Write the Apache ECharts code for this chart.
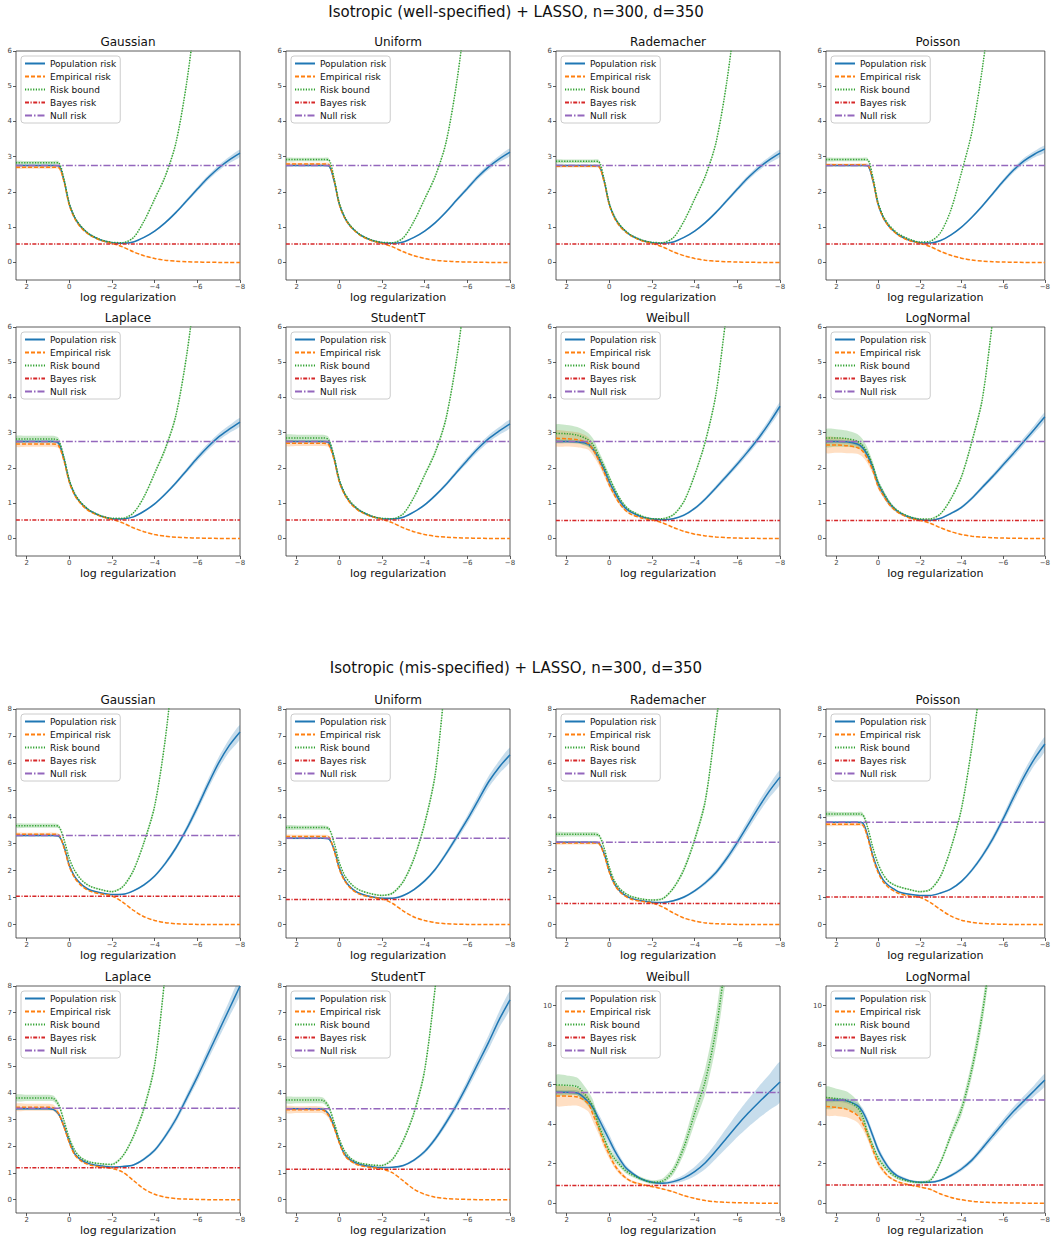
<!DOCTYPE html>
<html><head><meta charset="utf-8">
<script src="https://cdn.jsdelivr.net/npm/echarts@6/dist/echarts.min.js"></script>
<style>html,body{margin:0;padding:0;background:#fff}#c{width:1053px;height:1240px}</style>
</head><body><div id="c"></div>
<script>
// ---------------- DATA ----------------
const logReg = [2.5,2,1.5,1,0.75,0.5,0.25,0,-0.25,-0.5,-0.75,-1,-1.5,-2,-2.5,-3,-3.5,-4,-4.5,-5,-5.5,-6,-6.5,-7,-7.5,-8];
const xTicks = [2,0,-2,-4,-6,-8];
const yTicks6 = [0,1,2,3,4,5,6];
const yTicks8 = [0,1,2,3,4,5,6,7,8];
const yTicks11 = [0,2,4,6,8,10];
const suptitles = ['Isotropic (well-specified) + LASSO, n=300, d=350','Isotropic (mis-specified) + LASSO, n=300, d=350'];
const panelTitles = ['Gaussian','Uniform','Rademacher','Poisson','Laplace','StudentT','Weibull','LogNormal',
                     'Gaussian','Uniform','Rademacher','Poisson','Laplace','StudentT','Weibull','LogNormal'];
const seriesNames = ['Population risk','Empirical risk','Risk bound','Bayes risk','Null risk'];
const bayesRisk = [0.52,0.52,0.52,0.52, 0.52,0.52,0.51,0.51, 1.05,0.93,0.78,1.02, 1.19,1.14,0.89,0.92];
const nullRisk  = [2.75,2.75,2.75,2.75, 2.75,2.75,2.75,2.75, 3.30,3.20,3.05,3.80, 3.42,3.40,5.60,5.22];

// well-specified
const gaussW_pop   = [2.75,2.75,2.75,2.75,2.75,2.74,2.32,1.65,1.27,1.04,0.89,0.77,0.63,0.56,0.54,0.58,0.71,0.89,1.13,1.42,1.75,2.08,2.40,2.68,2.91,3.10];
const gaussW_emp   = [2.70,2.70,2.70,2.70,2.70,2.69,2.29,1.62,1.25,1.02,0.87,0.76,0.62,0.54,0.44,0.30,0.19,0.11,0.06,0.035,0.02,0.01,0.005,0,0,0];
const gaussW_bound = [2.83,2.83,2.83,2.83,2.83,2.82,2.36,1.67,1.29,1.06,0.90,0.78,0.64,0.57,0.56,0.70,1.17,1.80,2.45,3.40,5.10,7.40,9.5,12.5,16,20];
const uniW_pop     = [2.75,2.75,2.75,2.75,2.75,2.74,2.32,1.65,1.27,1.04,0.89,0.77,0.63,0.56,0.54,0.58,0.71,0.89,1.13,1.43,1.77,2.10,2.43,2.71,2.94,3.13];
const uniW_emp     = [2.79,2.79,2.79,2.79,2.79,2.78,2.34,1.64,1.26,1.03,0.88,0.76,0.62,0.54,0.44,0.30,0.19,0.11,0.06,0.035,0.02,0.01,0.005,0,0,0];
const uniW_bound   = [2.92,2.92,2.92,2.92,2.92,2.91,2.40,1.68,1.29,1.06,0.90,0.78,0.64,0.57,0.56,0.70,1.17,1.80,2.45,3.40,5.10,7.40,9.5,12.5,16,20];
const radW_pop     = [2.75,2.75,2.75,2.75,2.75,2.74,2.32,1.65,1.27,1.04,0.89,0.77,0.63,0.56,0.54,0.58,0.71,0.89,1.13,1.42,1.75,2.08,2.40,2.68,2.91,3.10];
const radW_emp     = [2.73,2.73,2.73,2.73,2.73,2.72,2.30,1.63,1.25,1.02,0.87,0.76,0.62,0.54,0.44,0.30,0.19,0.11,0.06,0.035,0.02,0.01,0.005,0,0,0];
const radW_bound   = [2.87,2.87,2.87,2.87,2.87,2.86,2.38,1.67,1.29,1.06,0.90,0.78,0.64,0.57,0.56,0.70,1.17,1.80,2.45,3.40,5.10,7.40,9.5,12.5,16,20];
const poisW_pop    = [2.75,2.75,2.75,2.75,2.75,2.74,2.32,1.65,1.27,1.04,0.89,0.77,0.63,0.56,0.55,0.62,0.78,1.00,1.28,1.60,1.95,2.30,2.62,2.88,3.07,3.22];
const poisW_emp    = [2.77,2.77,2.77,2.77,2.77,2.76,2.33,1.64,1.26,1.03,0.88,0.76,0.62,0.54,0.45,0.31,0.20,0.12,0.065,0.035,0.02,0.01,0.005,0,0,0];
const poisW_bound  = [2.92,2.92,2.92,2.92,2.92,2.91,2.42,1.70,1.31,1.08,0.92,0.80,0.66,0.58,0.60,0.85,1.50,2.55,3.70,5.50,7.80,10.5,13.5,17,21,25];
const lapW_pop     = [2.75,2.75,2.75,2.75,2.75,2.70,2.25,1.62,1.25,1.03,0.88,0.77,0.63,0.56,0.55,0.61,0.77,0.98,1.26,1.58,1.93,2.28,2.60,2.88,3.10,3.30];
const lapW_emp     = [2.68,2.68,2.68,2.68,2.68,2.63,2.20,1.59,1.23,1.01,0.86,0.75,0.62,0.54,0.44,0.30,0.19,0.11,0.06,0.035,0.02,0.01,0.005,0,0,0];
const lapW_bound   = [2.82,2.82,2.82,2.82,2.82,2.77,2.30,1.66,1.28,1.05,0.90,0.78,0.64,0.57,0.57,0.72,1.18,1.85,2.55,3.50,5.20,7.50,9.8,12.8,16,20];
const stuW_pop     = [2.75,2.75,2.75,2.75,2.75,2.72,2.28,1.63,1.26,1.03,0.88,0.77,0.63,0.56,0.55,0.60,0.75,0.95,1.22,1.53,1.88,2.22,2.55,2.83,3.05,3.25];
const stuW_emp     = [2.70,2.70,2.70,2.70,2.70,2.66,2.24,1.60,1.24,1.01,0.86,0.75,0.62,0.54,0.44,0.30,0.19,0.11,0.06,0.035,0.02,0.01,0.005,0,0,0];
const stuW_bound   = [2.85,2.85,2.85,2.85,2.85,2.80,2.33,1.67,1.29,1.06,0.90,0.78,0.64,0.57,0.56,0.70,1.17,1.80,2.45,3.40,5.10,7.40,9.5,12.5,16,20];
const weiW_pop     = [2.75,2.75,2.74,2.68,2.52,2.27,1.96,1.60,1.31,1.05,0.86,0.75,0.61,0.55,0.53,0.56,0.66,0.85,1.12,1.44,1.77,2.11,2.47,2.85,3.28,3.75];
const weiW_emp     = [2.84,2.83,2.80,2.70,2.50,2.22,1.88,1.52,1.22,0.97,0.80,0.69,0.58,0.52,0.44,0.31,0.20,0.12,0.07,0.04,0.02,0.01,0.005,0,0,0];
const weiW_bound   = [2.98,2.97,2.93,2.80,2.65,2.35,2.05,1.72,1.40,1.12,0.92,0.79,0.64,0.56,0.56,0.67,1.05,1.80,2.75,4.10,6.40,8.50,11.5,15,19,23];
const lnW_pop      = [2.75,2.75,2.74,2.68,2.58,2.35,2.00,1.55,1.27,1.03,0.86,0.74,0.60,0.53,0.51,0.57,0.71,0.88,1.14,1.45,1.76,2.09,2.42,2.76,3.10,3.45];
const lnW_emp      = [2.65,2.65,2.63,2.58,2.48,2.25,1.92,1.48,1.22,0.99,0.83,0.72,0.58,0.51,0.43,0.30,0.19,0.11,0.06,0.035,0.02,0.01,0.005,0,0,0];
const lnW_bound    = [2.85,2.85,2.83,2.76,2.65,2.42,2.06,1.60,1.31,1.06,0.88,0.76,0.62,0.55,0.55,0.70,1.13,1.75,2.75,3.95,6.20,8.50,11,14,18,22];
// mis-specified
const gaussM_pop   = [3.30,3.30,3.30,3.30,3.30,3.28,2.90,2.20,1.78,1.54,1.38,1.27,1.17,1.11,1.12,1.25,1.47,1.80,2.27,2.85,3.55,4.35,5.20,6.00,6.65,7.15];
const gaussM_emp   = [3.35,3.35,3.35,3.35,3.35,3.33,2.85,2.15,1.73,1.49,1.33,1.23,1.13,1.06,0.83,0.53,0.29,0.15,0.07,0.03,0.015,0.005,0,0,0,0];
const gaussM_bound = [3.67,3.67,3.67,3.67,3.67,3.64,3.15,2.45,2.00,1.72,1.53,1.41,1.29,1.22,1.40,2.00,3.05,4.40,6.90,10.5,14,18,22,26,30,34];
const uniM_pop     = [3.20,3.20,3.20,3.20,3.20,3.18,2.80,2.10,1.66,1.40,1.24,1.14,1.03,0.98,0.98,1.08,1.30,1.62,2.05,2.62,3.25,3.90,4.60,5.30,5.85,6.30];
const uniM_emp     = [3.27,3.27,3.27,3.27,3.27,3.25,2.75,2.05,1.62,1.37,1.21,1.11,1.01,0.95,0.78,0.50,0.28,0.15,0.07,0.03,0.015,0.005,0,0,0,0];
const uniM_bound   = [3.60,3.60,3.60,3.60,3.60,3.57,3.05,2.30,1.82,1.55,1.37,1.26,1.14,1.08,1.17,1.60,2.45,3.75,5.60,9.30,13,17,21,25,29,33];
const radM_pop     = [3.05,3.05,3.05,3.05,3.05,3.03,2.65,1.98,1.50,1.24,1.08,0.98,0.88,0.83,0.82,0.88,1.02,1.25,1.55,1.93,2.45,3.05,3.70,4.35,4.95,5.47];
const radM_emp     = [3.03,3.03,3.03,3.03,3.03,3.01,2.60,1.94,1.47,1.21,1.05,0.95,0.86,0.80,0.65,0.43,0.24,0.13,0.06,0.03,0.015,0.005,0,0,0,0];
const radM_bound   = [3.35,3.35,3.35,3.35,3.35,3.32,2.85,2.12,1.60,1.33,1.16,1.05,0.95,0.91,0.96,1.35,2.05,3.15,4.60,7.50,10.5,14,17.5,21,25,29];
const poisM_pop    = [3.80,3.80,3.80,3.80,3.78,3.30,2.55,2.00,1.65,1.45,1.32,1.21,1.12,1.08,1.08,1.17,1.32,1.60,2.02,2.55,3.18,3.92,4.72,5.48,6.15,6.70];
const poisM_emp    = [3.72,3.72,3.72,3.72,3.70,3.22,2.48,1.93,1.58,1.38,1.25,1.15,1.06,1.01,0.82,0.55,0.31,0.16,0.08,0.04,0.02,0.01,0,0,0,0];
const poisM_bound  = [4.10,4.10,4.10,4.10,4.08,3.60,2.85,2.25,1.85,1.60,1.48,1.40,1.30,1.22,1.30,1.80,2.85,4.30,6.60,9.50,13,17,21,25,29,33];
const lapM_pop     = [3.40,3.40,3.40,3.40,3.38,3.20,2.75,2.18,1.72,1.52,1.40,1.33,1.26,1.22,1.24,1.30,1.52,1.85,2.38,3.02,3.80,4.60,5.45,6.30,7.15,8.00];
const lapM_emp     = [3.46,3.46,3.46,3.46,3.44,3.22,2.72,2.13,1.68,1.48,1.36,1.29,1.22,1.17,1.03,0.72,0.40,0.20,0.09,0.04,0.02,0.01,0,0,0,0];
const lapM_bound   = [3.81,3.81,3.81,3.81,3.79,3.55,2.95,2.30,1.85,1.60,1.47,1.40,1.34,1.32,1.63,2.36,3.42,5.05,8.50,12.5,17,21,25,29,33,37];
const stuM_pop     = [3.40,3.40,3.40,3.40,3.38,3.20,2.75,2.16,1.70,1.50,1.38,1.31,1.24,1.20,1.21,1.28,1.48,1.80,2.28,2.88,3.55,4.30,5.10,5.90,6.75,7.48];
const stuM_emp     = [3.37,3.37,3.37,3.37,3.35,3.15,2.70,2.12,1.66,1.46,1.34,1.27,1.20,1.15,1.00,0.70,0.39,0.20,0.09,0.04,0.02,0.01,0,0,0,0];
const stuM_bound   = [3.73,3.73,3.73,3.73,3.71,3.48,2.90,2.26,1.82,1.57,1.44,1.36,1.30,1.28,1.52,2.22,3.25,4.85,8.00,12,16,20,24,28,32,36];
const weiM_pop     = [5.62,5.62,5.58,5.15,4.80,4.28,3.74,3.20,2.66,2.20,1.82,1.58,1.22,1.06,1.01,1.09,1.28,1.60,2.05,2.65,3.30,3.95,4.55,5.10,5.62,6.14];
const weiM_emp     = [5.43,5.42,5.38,5.05,4.45,3.80,3.05,2.45,1.92,1.55,1.30,1.12,0.95,0.84,0.72,0.57,0.38,0.24,0.13,0.07,0.04,0.02,0.01,0,0,0];
const weiM_bound   = [5.99,5.97,5.90,5.30,4.85,3.95,3.30,2.65,2.25,1.93,1.65,1.47,1.22,1.06,1.12,1.65,2.85,4.55,6.20,8.80,12.6,16,19.5,23,26.5,30];
const lnM_pop      = [5.22,5.22,5.18,4.95,4.65,4.10,3.40,2.70,2.20,1.80,1.52,1.34,1.14,1.06,1.06,1.16,1.40,1.73,2.18,2.78,3.42,4.05,4.65,5.18,5.71,6.24];
const lnM_emp      = [4.90,4.85,4.75,4.45,4.05,3.45,2.70,2.05,1.65,1.35,1.18,1.06,0.92,0.82,0.70,0.46,0.29,0.17,0.09,0.05,0.03,0.015,0.005,0,0,0];
const lnM_bound    = [5.35,5.30,5.20,4.85,4.40,3.55,2.90,2.30,1.92,1.62,1.40,1.25,1.10,1.05,1.15,2.08,3.45,4.75,6.80,9.60,13.5,17.5,21.5,25.5,29.5,33.5];

// half-widths of the shaded bands
const bandLightW_pop   = [0.02,0.02,0.02,0.02,0.02,0.02,0.03,0.03,0.02,0.02,0.01,0.01,0.01,0.01,0.01,0.01,0.02,0.02,0.03,0.04,0.05,0.06,0.07,0.08,0.09,0.10];
const bandLightW_emp   = [0.04,0.04,0.04,0.04,0.04,0.04,0.03,0.02,0.02,0.01,0.01,0.01,0.01,0.01,0.01,0.01,0.01,0.01,0.005,0.005,0,0,0,0,0,0];
const bandLightW_bound = [0.05,0.05,0.05,0.05,0.05,0.05,0.04,0.03,0.02,0.02,0.01,0.01,0.01,0.01,0.01,0.02,0.03,0.04,0.05,0.07,0.09,0.11,0.13,0.15,0.17,0.20];
const bandHeavyW_pop   = [0.03,0.03,0.03,0.03,0.03,0.04,0.05,0.04,0.03,0.02,0.02,0.01,0.01,0.01,0.01,0.02,0.02,0.03,0.04,0.05,0.06,0.08,0.09,0.10,0.11,0.12];
const bandHeavyW_emp   = [0.08,0.08,0.08,0.08,0.08,0.07,0.05,0.04,0.03,0.02,0.02,0.01,0.01,0.01,0.01,0.01,0.01,0.01,0.005,0.005,0,0,0,0,0,0];
const bandHeavyW_bound = [0.09,0.09,0.09,0.09,0.09,0.08,0.06,0.04,0.03,0.02,0.02,0.01,0.01,0.01,0.01,0.02,0.04,0.05,0.07,0.09,0.11,0.13,0.15,0.17,0.20,0.22];
const bandSkewW_pop    = [0.05,0.05,0.05,0.06,0.08,0.10,0.12,0.12,0.10,0.08,0.06,0.04,0.03,0.02,0.02,0.02,0.03,0.04,0.05,0.06,0.07,0.08,0.09,0.10,0.11,0.12];
const bandSkewW_emp    = [0.22,0.22,0.21,0.18,0.16,0.13,0.10,0.08,0.06,0.04,0.03,0.02,0.01,0.01,0.01,0.01,0.01,0.01,0.005,0.005,0,0,0,0,0,0];
const bandSkewW_bound  = [0.25,0.25,0.23,0.20,0.17,0.14,0.11,0.08,0.06,0.04,0.03,0.02,0.02,0.02,0.02,0.03,0.04,0.06,0.08,0.10,0.13,0.16,0.20,0.24,0.28,0.32];
const bandLightM_pop   = [0.03,0.03,0.03,0.03,0.03,0.03,0.04,0.04,0.03,0.02,0.02,0.02,0.02,0.02,0.02,0.03,0.04,0.05,0.07,0.09,0.12,0.15,0.18,0.21,0.24,0.26];
const bandLightM_emp   = [0.06,0.06,0.06,0.06,0.06,0.05,0.04,0.03,0.02,0.02,0.02,0.01,0.01,0.01,0.01,0.01,0.01,0.01,0.005,0.005,0,0,0,0,0,0];
const bandLightM_bound = [0.08,0.08,0.08,0.08,0.08,0.07,0.06,0.05,0.04,0.03,0.03,0.03,0.03,0.03,0.04,0.06,0.09,0.12,0.16,0.20,0.25,0.30,0.35,0.40,0.45,0.50];
const bandHeavyM_pop   = [0.04,0.04,0.04,0.04,0.04,0.05,0.06,0.05,0.04,0.03,0.03,0.02,0.02,0.02,0.02,0.03,0.05,0.07,0.09,0.12,0.15,0.18,0.22,0.26,0.30,0.32];
const bandHeavyM_emp   = [0.13,0.13,0.13,0.13,0.12,0.10,0.08,0.06,0.04,0.03,0.02,0.02,0.02,0.01,0.01,0.01,0.01,0.01,0.005,0.005,0,0,0,0,0,0];
const bandHeavyM_bound = [0.12,0.12,0.12,0.12,0.11,0.10,0.08,0.06,0.05,0.04,0.03,0.03,0.03,0.03,0.05,0.08,0.12,0.16,0.22,0.28,0.35,0.42,0.50,0.58,0.66,0.74];
const bandWeibM_pop    = [0.10,0.10,0.12,0.16,0.20,0.24,0.26,0.26,0.22,0.18,0.14,0.10,0.07,0.06,0.07,0.10,0.16,0.24,0.32,0.40,0.50,0.60,0.70,0.80,0.90,1.00];
const bandWeibM_emp    = [0.50,0.50,0.45,0.40,0.36,0.30,0.25,0.20,0.15,0.11,0.08,0.06,0.05,0.04,0.03,0.03,0.02,0.02,0.01,0.01,0.005,0,0,0,0,0];
const bandWeibM_bound  = [0.50,0.50,0.45,0.38,0.33,0.28,0.24,0.20,0.17,0.14,0.12,0.11,0.10,0.10,0.13,0.20,0.35,0.50,0.65,0.80,1.00,1.20,1.40,1.60,1.80,2.00];
const bandLogNM_pop    = [0.10,0.10,0.12,0.15,0.18,0.20,0.20,0.18,0.15,0.12,0.10,0.08,0.06,0.05,0.05,0.06,0.08,0.10,0.12,0.15,0.18,0.20,0.23,0.26,0.28,0.30];
const bandLogNM_emp    = [0.45,0.43,0.40,0.35,0.30,0.25,0.20,0.15,0.11,0.08,0.06,0.05,0.04,0.03,0.03,0.02,0.02,0.01,0.01,0.005,0,0,0,0,0,0];
const bandLogNM_bound  = [0.55,0.50,0.45,0.35,0.30,0.25,0.20,0.15,0.12,0.10,0.09,0.08,0.07,0.07,0.08,0.12,0.20,0.30,0.40,0.50,0.65,0.80,0.95,1.10,1.25,1.40];

// ---------------- LAYOUT / STYLE ----------------
const FONT = 'DejaVu Sans';
const COL = {pop:'#1f77b4', emp:'#ff7f0e', bound:'#2ca02c', bayes:'#d62728', nul:'#9467bd'};
const COLS = [16,286,556,826], ROWS = [51,327,709,986], PH = [229,229,229,227], PW = 224;
const bLW = {pop:bandLightW_pop, emp:bandLightW_emp, bound:bandLightW_bound};
const bHW = {pop:bandHeavyW_pop, emp:bandHeavyW_emp, bound:bandHeavyW_bound};
const bSW = {pop:bandSkewW_pop, emp:bandSkewW_emp, bound:bandSkewW_bound};
const bLM = {pop:bandLightM_pop, emp:bandLightM_emp, bound:bandLightM_bound};
const bHM = {pop:bandHeavyM_pop, emp:bandHeavyM_emp, bound:bandHeavyM_bound};
const bWM = {pop:bandWeibM_pop, emp:bandWeibM_emp, bound:bandWeibM_bound};
const bNM = {pop:bandLogNM_pop, emp:bandLogNM_emp, bound:bandLogNM_bound};
const panels = [
  [gaussW_pop,gaussW_emp,gaussW_bound,bLW,yTicks6,6],
  [uniW_pop,uniW_emp,uniW_bound,bLW,yTicks6,6],
  [radW_pop,radW_emp,radW_bound,bLW,yTicks6,6],
  [poisW_pop,poisW_emp,poisW_bound,bLW,yTicks6,6],
  [lapW_pop,lapW_emp,lapW_bound,bHW,yTicks6,6],
  [stuW_pop,stuW_emp,stuW_bound,bHW,yTicks6,6],
  [weiW_pop,weiW_emp,weiW_bound,bSW,yTicks6,6],
  [lnW_pop,lnW_emp,lnW_bound,bSW,yTicks6,6],
  [gaussM_pop,gaussM_emp,gaussM_bound,bLM,yTicks8,8],
  [uniM_pop,uniM_emp,uniM_bound,bLM,yTicks8,8],
  [radM_pop,radM_emp,radM_bound,bLM,yTicks8,8],
  [poisM_pop,poisM_emp,poisM_bound,bLM,yTicks8,8],
  [lapM_pop,lapM_emp,lapM_bound,bHM,yTicks8,8],
  [stuM_pop,stuM_emp,stuM_bound,bHM,yTicks8,8],
  [weiM_pop,weiM_emp,weiM_bound,bWM,yTicks11,11],
  [lnM_pop,lnM_emp,lnM_bound,bNM,yTicks11,11]
];
const minus = v => String(v).replace('-', '\u2212');
const SM = 0.3;

const grid = [], xAxis = [], yAxis = [], series = [], legend = [];
const title = [
  {text:suptitles[0], left:516, top:4, textAlign:'center', padding:0, textStyle:{fontFamily:FONT,fontSize:15,fontWeight:'normal',color:'#111'}},
  {text:suptitles[1], left:516, top:660, textAlign:'center', padding:0, textStyle:{fontFamily:FONT,fontSize:15,fontWeight:'normal',color:'#111'}}
];

// shaded band = polygon built from upper and lower edges, positioned with the axes' own scales
function bandSeries(k, center, hw, color) {
  series.push({type:'custom', xAxisIndex:k, yAxisIndex:k, silent:true, z:1,
    data:[[logReg[0], center[0]]],
    renderItem(params, api) {
      const up = logReg.map((x,i) => api.coord([x, center[i] + hw[i]]));
      const lo = logReg.map((x,i) => api.coord([x, center[i] - hw[i]])).reverse();
      const cs = params.coordSys;
      return {type:'polygon', shape:{points:up.concat(lo), smooth:0.25},
              style:{fill:color, opacity:0.25, stroke:null},
              clipPath:{type:'rect', shape:{x:cs.x, y:cs.y, width:cs.width, height:cs.height}}};
    }});
}
function lineSeries(k, name, data, color, type) {
  series.push({name, type:'line', xAxisIndex:k, yAxisIndex:k, data, symbol:'none', smooth:SM, z:3,
               itemStyle:{color}, lineStyle:{color, width:1.5, type}});
}

panels.forEach((p, k) => {
  const [pop, emp, bound, band, yt, ymax] = p;
  const r = Math.floor(k / 4), c = k % 4;
  grid.push({left:COLS[c], top:ROWS[r], width:PW, height:PH[r], show:true, borderColor:'#333', borderWidth:0.8, backgroundColor:'transparent'});
  xAxis.push({gridIndex:k, type:'value', min:-8, max:2.5, inverse:true,
    name:'log regularization', nameLocation:'middle', nameGap:12,
    nameTextStyle:{fontFamily:FONT, fontSize:11, color:'#111'},
    axisLine:{show:false, onZero:false}, splitLine:{show:false},
    axisTick:{show:true, length:3, lineStyle:{color:'#333', width:0.8}, customValues:xTicks},
    axisLabel:{fontFamily:FONT, fontSize:7, color:'#444', margin:3, customValues:xTicks, formatter:minus}});
  yAxis.push({gridIndex:k, type:'value', min:-0.5, max:ymax,
    axisLine:{show:false, onZero:false}, splitLine:{show:false},
    axisTick:{show:true, length:3, lineStyle:{color:'#333', width:0.8}, customValues:yt},
    axisLabel:{fontFamily:FONT, fontSize:7, color:'#444', margin:4, customValues:yt, formatter:minus}});
  title.push({text:panelTitles[k], left:COLS[c] + PW/2, top:ROWS[r] - 15, textAlign:'center', padding:0,
    textStyle:{fontFamily:FONT, fontSize:12, fontWeight:'normal', color:'#111'}});
  legend.push({data:seriesNames, orient:'vertical', left:COLS[c] + 5, top:ROWS[r] + 5,
    itemWidth:20, itemHeight:10, itemGap:4, padding:[3,4,3,3], selectedMode:false,
    itemStyle:{opacity:0},
    backgroundColor:'rgba(255,255,255,0.8)', borderColor:'#ccc', borderWidth:1, borderRadius:3,
    textStyle:{fontFamily:FONT, fontSize:9, color:'#111'}});

  bandSeries(k, pop, band.pop, COL.pop);
  bandSeries(k, emp, band.emp, COL.emp);
  bandSeries(k, bound, band.bound, COL.bound);
  lineSeries(k, seriesNames[0], logReg.map((x,i)=>[x,pop[i]]), COL.pop, 'solid');
  lineSeries(k, seriesNames[1], logReg.map((x,i)=>[x,emp[i]]), COL.emp, [4,2]);
  lineSeries(k, seriesNames[2], logReg.map((x,i)=>[x,bound[i]]), COL.bound, [1.2,1.5]);
  lineSeries(k, seriesNames[3], [[2.5,bayesRisk[k]],[-8,bayesRisk[k]]], COL.bayes, [4,1.5,1.2,1.5]);
  lineSeries(k, seriesNames[4], [[2.5,nullRisk[k]],[-8,nullRisk[k]]], COL.nul, [7,2,1.5,2]);
});

const chart = echarts.init(document.getElementById('c'), null, {renderer:'svg'});
chart.setOption({animation:false, backgroundColor:'#fff', title, grid, xAxis, yAxis, legend, series});
</script>
</body></html>
